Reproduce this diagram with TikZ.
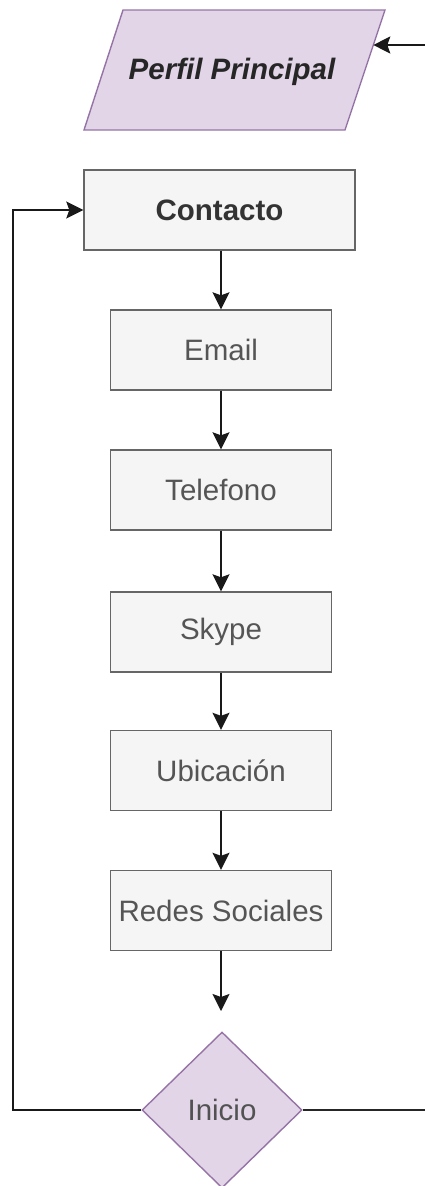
\documentclass[tikz,border=0pt]{standalone}
\usepackage{fontspec}
\setmainfont{Liberation Sans}
\usetikzlibrary{shapes.geometric,arrows.meta}
\definecolor{boxfill}{HTML}{F5F5F5}
\definecolor{boxline}{HTML}{666666}
\definecolor{purfill}{HTML}{E1D5E7}
\definecolor{purline}{HTML}{9673A6}
\definecolor{txtgray}{HTML}{555555}
\definecolor{txtdark}{HTML}{333333}
\tikzset{
  stepbox/.style={draw=boxline, fill=boxfill, line width=1.4pt, minimum width=221pt, minimum height=80pt, inner sep=0pt, text=txtgray, font=\fontsize{29.5}{32}\selectfont},
  decis/.style={shape=diamond, draw=purline, fill=purfill, line width=1.4pt, minimum width=160pt, minimum height=156pt, inner sep=0pt, text=txtdark!85!white, font=\fontsize{29.5}{32}\selectfont},
  arr/.style={draw=black!90, line width=1.8pt, -{Stealth[length=17pt,width=17pt,inset=3pt]}},
  plain/.style={draw=black!85, line width=1.8pt}
}
\begin{document}
\begin{tikzpicture}[x=1pt,y=-1pt]
\useasboundingbox (0,0) rectangle (425,1186);
% parallelogram
\filldraw[fill=purfill, draw=purline, line width=1.4pt] (123,10) -- (385,10) -- (345,130) -- (84,130) -- cycle;
\node[font=\fontsize{29.5}{32}\selectfont\bfseries\itshape, text=black!85] (pp) at (232,72) {Perfil Principal};
\coordinate (ppedge) at (373.3,45);
\coordinate (pin) at (425,45);
% boxes
\node[stepbox, minimum width=271pt, font=\fontsize{29.5}{32}\selectfont\bfseries, text=txtdark] (c) at (219.5,210) {Contacto};
\node[stepbox] (e) at (221,350) {Email};
\node[stepbox] (t) at (221,490) {Telefono};
\node[stepbox] (s) at (221,632) {Skype};
\node[stepbox] (u) at (221,770.5) {Ubicación};
\node[stepbox] (r) at (221,910.5) {Redes Sociales};
\node[decis] (d) at (222,1110) {Inicio};
\coordinate (rend) at (221,1011);
\coordinate (lc) at (13,1110);
\coordinate (rc) at (425,1110);
% connectors
\draw[arr] (pin) -- (ppedge);
\draw[arr] (c.south -| e.north) -- (e.north);
\draw[arr] (e) -- (t);
\draw[arr] (t) -- (s);
\draw[arr] (s) -- (u);
\draw[arr] (u) -- (r);
\draw[arr] (r) -- (rend);
\draw[arr] (d.west) -- (lc) |- (c.west);
\draw[plain] (d.east) -- (rc);
\end{tikzpicture}
\end{document}
